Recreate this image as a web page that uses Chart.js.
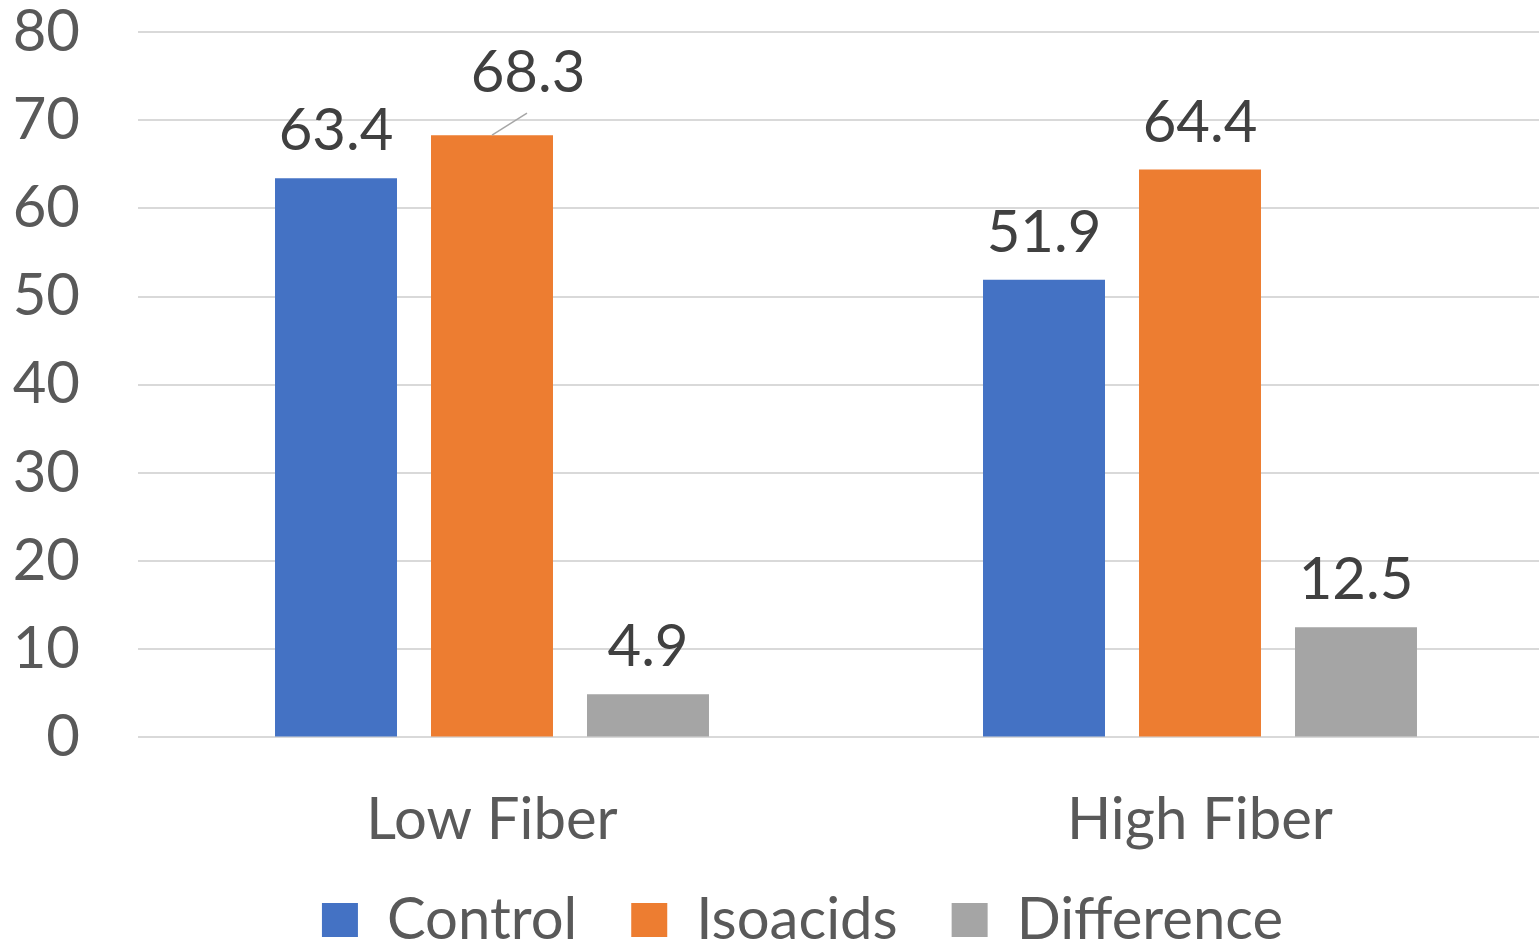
<!DOCTYPE html>
<html lang="en">
<head>
  <meta charset="UTF-8">
  <title>Low vs High Fiber</title>
  <script src="https://cdn.jsdelivr.net/npm/chart.js"></script>
  <style>
    html, body {
      margin: 0;
      padding: 0;
      background: #fff;
      overflow: hidden;
    }
    /* a little bigger than the window, the extra is clipped like in the original */
    .chart-box {
      width: 1555px;
      height: 977px;
    }
  </style>
</head>
<body>
  <div class="chart-box">
    <canvas id="fiberChart"></canvas>
  </div>

  <script>
    // Chart data
    const categories = ["Low Fiber", "High Fiber"];
    const seriesNames = ["Control", "Isoacids", "Difference"];
    const controlValues = [63.4, 51.9];
    const isoacidValues = [68.3, 64.4];
    const differenceValues = [4.9, 12.5];
    const yTicks = [0, 10, 20, 30, 40, 50, 60, 70, 80];

    const colors = ["#4472c4", "#ed7d31", "#a5a5a5"];
    const fontFamily = "Lato, 'Open Sans', sans-serif";
    const fontSize = 58;

    // the 68.3 label sits off its bar with a leader line
    const callout = { dataset: 1, index: 0, dx: 36, dy: -15 };

    // Draw value labels above bars
    const valueLabels = {
      id: "valueLabels",
      afterDatasetsDraw(chart) {
        const ctx = chart.ctx;
        ctx.save();
        ctx.font = fontSize + "px " + fontFamily;
        ctx.fillStyle = "#404040";
        ctx.textAlign = "center";
        ctx.textBaseline = "alphabetic";
        chart.data.datasets.forEach((ds, di) => {
          const meta = chart.getDatasetMeta(di);
          meta.data.forEach((bar, i) => {
            let x = bar.x;
            let y = bar.y - 28;
            if (di === callout.dataset && i === callout.index) {
              x += callout.dx;
              y += callout.dy;
              ctx.strokeStyle = "#a6a6a6";
              ctx.lineWidth = 1.5;
              ctx.beginPath();
              ctx.moveTo(bar.x, bar.y);
              ctx.lineTo(bar.x + 35, bar.y - 22);
              ctx.stroke();
            }
            ctx.fillText(ds.data[i].toFixed(1), x, y);
          });
        });
        ctx.restore();
      }
    };

    // nudge the legend row right and up, like Excel places it
    const legendShift = {
      id: "legendShift",
      afterLayout(chart) {
        const lg = chart.legend;
        lg.left += 38;
        lg.top -= 18;
        lg.bottom -= 18;
      }
    };

    const allValues = [controlValues, isoacidValues, differenceValues];

    new Chart(document.getElementById("fiberChart"), {
      type: "bar",
      data: {
        labels: categories,
        datasets: seriesNames.map((name, k) => ({
          label: name,
          data: allValues[k],
          backgroundColor: colors[k],
          categoryPercentage: 0.661,
          barPercentage: 0.782
        }))
      },
      options: {
        responsive: true,
        maintainAspectRatio: false,
        animation: false,
        layout: { padding: { left: 13, right: 1, top: 32, bottom: 0 } },
        scales: {
          x: {
            grid: { color: "transparent", tickColor: "transparent", tickLength: 48 },
            border: { display: false },
            ticks: {
              color: "#595959",
              font: { family: fontFamily, size: fontSize },
              padding: 0
            }
          },
          y: {
            min: yTicks[0],
            max: yTicks[yTicks.length - 1],
            afterBuildTicks(axis) {
              axis.ticks = yTicks.map(v => ({ value: v }));
            },
            afterFit(axis) {
              axis.width = 125;
            },
            grid: { color: "#d9d9d9", lineWidth: 2, tickColor: "transparent", tickLength: 58 },
            border: { display: false },
            ticks: {
              color: "#595959",
              font: { family: fontFamily, size: fontSize, lineHeight: 1 },
              padding: 0
            }
          }
        },
        plugins: {
          legend: {
            position: "bottom",
            labels: {
              boxWidth: 36,
              boxHeight: 34,
              padding: 54,
              color: "#595959",
              font: { family: fontFamily, size: fontSize }
            }
          },
          tooltip: { enabled: false }
        }
      },
      plugins: [valueLabels, legendShift]
    });
  </script>
</body>
</html>
